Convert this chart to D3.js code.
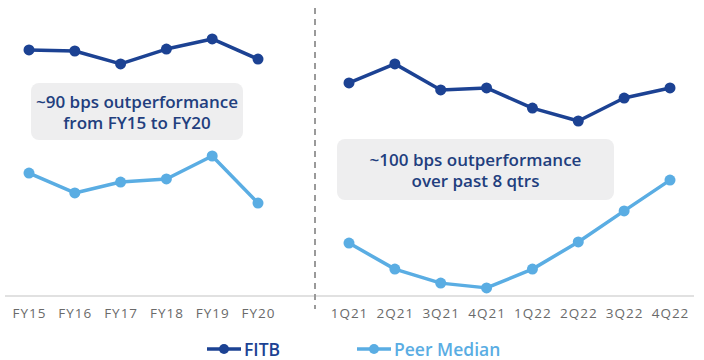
<!DOCTYPE html>
<html>
<head>
<meta charset="utf-8">
<script src="https://cdn.jsdelivr.net/npm/d3@7"></script>
<style>
  html, body { margin: 0; padding: 0; background: #ffffff; }
  svg { display: block; font-family: "Open Sans", "Noto Sans", sans-serif; }
</style>
</head>
<body>
<svg id="chart" width="704" height="360"></svg>
<script>
// Annual period (left panel)
const yearCats = ["FY15", "FY16", "FY17", "FY18", "FY19", "FY20"];
const fitbYear = [8.79, 8.75, 8.29, 8.82, 9.18, 8.46];
const peerYear = [4.39, 3.68, 4.07, 4.18, 5.00, 3.32];

// Quarterly period (right panel)
const qtrCats = ["1Q21", "2Q21", "3Q21", "4Q21", "1Q22", "2Q22", "3Q22", "4Q22"];
const fitbQtr = [7.61, 8.29, 7.36, 7.43, 6.71, 6.25, 7.07, 7.43];
const peerQtr = [1.89, 0.96, 0.46, 0.29, 0.96, 1.93, 3.04, 4.14];

const seriesNames = ["FITB", "Peer Median"];
const seriesColors = ["#1c4293", "#5aade3"];
const notes = [
  ["~90 bps outperformance", "from FY15 to FY20"],
  ["~100 bps outperformance", "over past 8 qtrs"]
];

const svg = d3.select("#chart");
const baseY = 296;

const y = d3.scaleLinear().domain([0, 10]).range([baseY, 16]);
const xYear = d3.scalePoint().domain(yearCats).range([29, 258]);
const xQtr = d3.scalePoint().domain(qtrCats).range([349, 670]);

// Baseline
svg.append("line")
  .attr("x1", 5).attr("x2", 694)
  .attr("y1", baseY).attr("y2", baseY)
  .attr("stroke", "#c4c4c4").attr("stroke-width", 1.2);

// Divider between the two periods
svg.append("line")
  .attr("x1", 315).attr("x2", 315)
  .attr("y1", 8).attr("y2", 309)
  .attr("stroke", "#9a9a9a").attr("stroke-width", 2)
  .attr("stroke-dasharray", "6,5");

// Category axes
function drawAxis(scale) {
  const g = svg.append("g")
    .attr("transform", `translate(0,${baseY})`)
    .call(d3.axisBottom(scale).tickSize(0).tickPadding(12));
  g.select(".domain").remove();
  g.selectAll("text")
    .attr("font-family", "'Open Sans', sans-serif")
    .attr("font-size", 13.5)
    .attr("fill", "#6a6a6a")
    .attr("letter-spacing", "1px");
}
drawAxis(xYear);
drawAxis(xQtr);

// Annotation boxes
function drawNote(x, yTop, w, h, lines) {
  svg.append("rect")
    .attr("x", x).attr("y", yTop)
    .attr("width", w).attr("height", h)
    .attr("rx", 8)
    .attr("fill", "#eeeeef");
  const cx = x + w / 2;
  const t = svg.append("text")
    .attr("text-anchor", "middle")
    .attr("font-size", 17)
    .attr("font-weight", 600)
    .attr("fill", "#223e7e");
  lines.forEach((s, i) => {
    t.append("tspan").attr("x", cx).attr("y", yTop + h / 2 - 4 + i * 21).text(s);
  });
}
drawNote(31, 83, 212, 57, notes[0]);
drawNote(337, 139, 277, 61, notes[1]);

// Lines with markers
function drawSeries(xs, cats, vals, color) {
  const pts = cats.map((c, i) => [xs(c), y(vals[i])]);
  svg.append("path")
    .attr("d", d3.line()(pts))
    .attr("fill", "none")
    .attr("stroke", color)
    .attr("stroke-width", 3.5)
    .attr("stroke-linejoin", "round");
  svg.append("g").selectAll("circle")
    .data(pts).join("circle")
    .attr("cx", d => d[0]).attr("cy", d => d[1])
    .attr("r", 5.5)
    .attr("fill", color);
}
drawSeries(xYear, yearCats, fitbYear, seriesColors[0]);
drawSeries(xYear, yearCats, peerYear, seriesColors[1]);
drawSeries(xQtr, qtrCats, fitbQtr, seriesColors[0]);
drawSeries(xQtr, qtrCats, peerQtr, seriesColors[1]);

// Legend
const legendX = [207, 357];
seriesNames.forEach((name, i) => {
  const g = svg.append("g").attr("transform", `translate(${legendX[i]},349)`);
  g.append("line").attr("x1", 0).attr("x2", 34).attr("y1", 0).attr("y2", 0)
    .attr("stroke", seriesColors[i]).attr("stroke-width", 3.5);
  g.append("circle").attr("cx", 17).attr("cy", 0).attr("r", 5).attr("fill", seriesColors[i]);
  g.append("text").attr("x", 37).attr("y", 6.5)
    .attr("font-size", 17.5).attr("font-weight", 600)
    .attr("fill", seriesColors[i]).text(name);
});
</script>
</body>
</html>
